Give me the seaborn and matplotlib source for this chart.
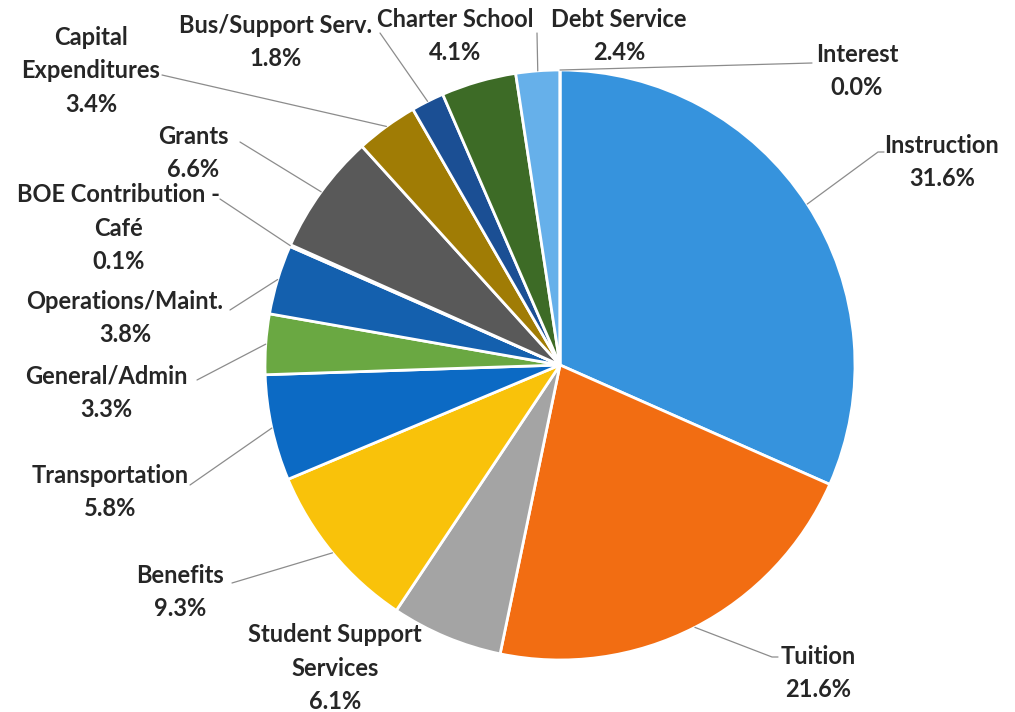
import numpy as np
import matplotlib
matplotlib.use("Agg")
import matplotlib.pyplot as plt
import seaborn as sns

# --- data ---
categories = ["Instruction", "Tuition", "Student Support Services", "Benefits",
              "Transportation", "General/Admin", "Operations/Maint.",
              "BOE Contribution - Café", "Grants", "Capital Expenditures",
              "Bus/Support Serv.", "Charter School", "Debt Service", "Interest"]
shares = [31.6, 21.6, 6.1, 9.3, 5.8, 3.3, 3.8, 0.1, 6.6, 3.4, 1.8, 4.1, 2.4, 0.0]
label_names = ["Instruction", "Tuition", "Student Support\nServices", "Benefits",
               "Transportation", "General/Admin", "Operations/Maint.",
               "BOE Contribution -\nCafé", "Grants", "Capital\nExpenditures",
               "Bus/Support Serv.", "Charter School", "Debt Service", "Interest"]
colors = ["#3693DD", "#F26D12", "#A4A4A4", "#F9C20A", "#0C6AC4", "#6AA842",
          "#1460AE", "#9E4A10", "#595959", "#A07C05", "#1B4F94", "#3D6B26",
          "#66B0EA", "#F4A460"]

# --- layout (pixel coords from top-left) ---
W, H = 1015, 712
cx, cy, R = 560, 365, 295
text_pos = [(942, 162), (818, 673), (335, 668), (180, 592), (110, 492),
            (106, 393), (125, 318), (119, 228), (193, 153), (91, 71),
            (276, 42), (455, 36), (619, 36), (857, 71)]
leader_ends = [[(878, 152), (884, 152)], [(772, 657), (778, 657)], None,
               [(232, 583)], [(190, 485)], [(197, 380)], [(230, 310)],
               [(220, 199)], [(240, 142)], [(162, 75)], [(380, 33)], None,
               [(537, 33)], [(812, 63)]]

sns.set_theme(style="white")
plt.rcParams['font.family'] = ['Lato', 'DejaVu Sans']

fig = plt.figure(figsize=(10.15, 7.12), dpi=100)
ax = fig.add_axes([0, 0, 1, 1])

wedges, _ = ax.pie(shares, colors=colors, startangle=90, counterclock=False,
                   center=(cx, H - cy), radius=R,
                   wedgeprops=dict(edgecolor="white", linewidth=2))
ax.set_xlim(0, W)
ax.set_ylim(0, H)
ax.set_aspect("equal")
ax.axis("off")

for i, w in enumerate(wedges):
    if leader_ends[i] is not None:
        mid = np.deg2rad((w.theta1 + w.theta2) / 2)
        xs = [cx + R * np.cos(mid)] + [p[0] for p in leader_ends[i]]
        ys = [H - cy + R * np.sin(mid)] + [H - p[1] for p in leader_ends[i]]
        ax.plot(xs, ys, color="#8C8C8C", lw=0.9, zorder=1)
    tx, ty = text_pos[i]
    ax.text(tx, H - ty, f"{label_names[i]}\n{shares[i]:.1f}%", ha="center",
            va="center", fontsize=17, fontweight="bold", color="#262626",
            linespacing=1.55)

fig.savefig("out.png", dpi=100)
